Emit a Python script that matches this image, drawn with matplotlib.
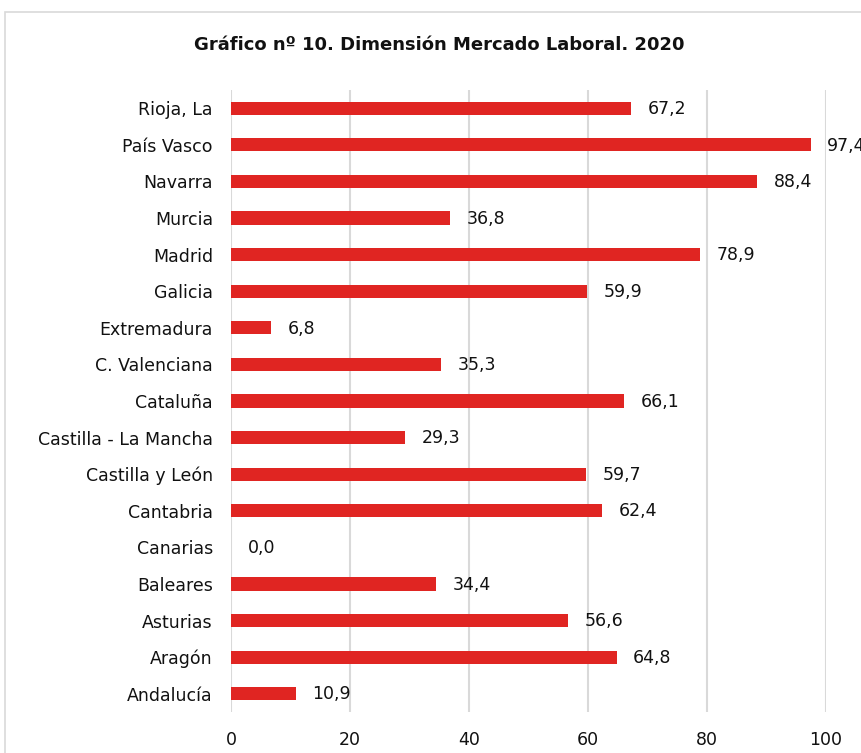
import matplotlib
matplotlib.use("Agg")
import matplotlib.pyplot as plt
from matplotlib.patches import Rectangle

regiones = ["Rioja, La", "País Vasco", "Navarra", "Murcia", "Madrid", "Galicia",
            "Extremadura", "C. Valenciana", "Cataluña", "Castilla - La Mancha",
            "Castilla y León", "Cantabria", "Canarias", "Baleares", "Asturias",
            "Aragón", "Andalucía"]
valores = [67.2, 97.4, 88.4, 36.8, 78.9, 59.9, 6.8, 35.3, 66.1, 29.3,
           59.7, 62.4, 0.0, 34.4, 56.6, 64.8, 10.9]
ticks_x = [0, 20, 40, 60, 80, 100]

plt.rcParams["font.family"] = ["DejaVu Sans"]
rojo = "#e02522"
gris = "#d9d9d9"

fig = plt.figure(figsize=(8.62, 7.53), dpi=100)
ax = fig.add_axes([231 / 862, 1 - 712 / 753, 595 / 862, 622 / 753])

# marco del gráfico (cortado a la derecha y abajo)
fig.patches.append(Rectangle((5 / 862, -0.05), 1.2, 1 - 12 / 753 + 0.05,
                             transform=fig.transFigure, fill=False,
                             edgecolor=gris, linewidth=1.2))

y = list(range(len(regiones)))[::-1]
ax.barh(y, valores, height=0.36, color=rojo, zorder=3)
for yi, v in zip(y, valores):
    ax.text(v + 2.8, yi - 0.02, f"{v:.1f}".replace(".", ","), va="center", ha="left",
            fontsize=12.5, color="#111111", clip_on=False)

ax.set_xlim(0, 100)
ax.set_ylim(-0.5, len(regiones) - 0.5)
ax.set_xticks(ticks_x)
ax.set_yticks(y)
ax.set_yticklabels(regiones)
ax.tick_params(axis="x", length=0, pad=14, labelsize=12.5, colors="#111111")
ax.tick_params(axis="y", length=0, pad=13, labelsize=12.5, colors="#111111")
ax.grid(axis="x", color=gris, linewidth=1.5, zorder=0)
for s in ax.spines.values():
    s.set_visible(False)

fig.text(439 / 862, 1 - 45 / 753, "Gráfico nº 10. Dimensión Mercado Laboral. 2020",
         ha="center", va="center", fontsize=13, fontweight="bold", color="#111111")

fig.savefig("out.png", dpi=100)
